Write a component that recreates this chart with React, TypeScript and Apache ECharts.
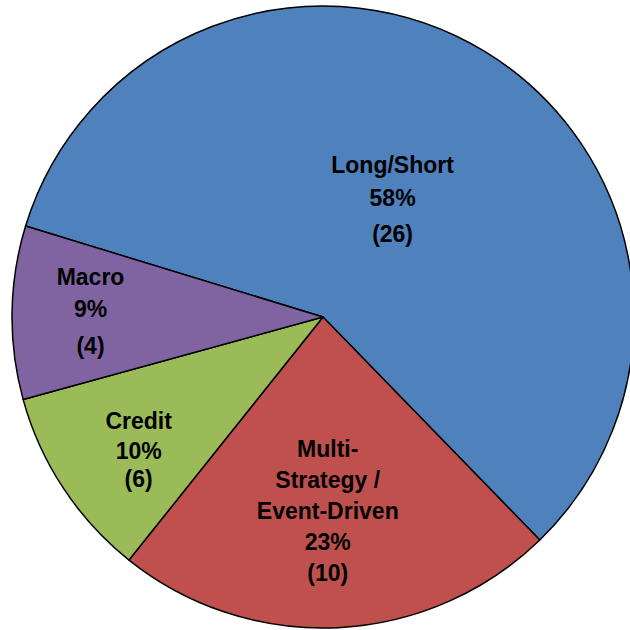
import React, { useEffect, useRef } from "react";
import * as echarts from "echarts";

const CATEGORIES = ["Long/Short", "Multi-\nStrategy /\nEvent-Driven", "Credit", "Macro"];
const SHARES = [58, 23, 10, 9];
const COUNTS = [26, 10, 6, 4];

const COLORS = ["#4F81BD", "#C0504D", "#9BBB59", "#8064A2"];
// per-slice line heights [name, percent, count] and label shifts (style only)
const LINE_H = [
  [33, 33, 38],
  [31, 31, 31],
  [30, 30, 27],
  [32, 32, 42],
];
const LABEL_SHIFT = [
  [-13, 19],
  [-3, 36],
  [-52, 45],
  [-74, -1],
];

const FONT = "'Liberation Sans', Arial, sans-serif";

export default function App() {
  const ref = useRef<HTMLDivElement>(null);
  useEffect(() => {
    if (!ref.current) return;
    const chart = echarts.init(ref.current, undefined, { renderer: "svg" });
    const txt = (lh: number) => ({
      fontFamily: FONT,
      fontWeight: "bold",
      fontSize: 23,
      color: "#000",
      lineHeight: lh,
      align: "center",
    });
    const data = CATEGORIES.map((name, i) => ({
      name,
      value: SHARES[i],
      itemStyle: { color: COLORS[i] },
      label: {
        rich: {
          n: txt(LINE_H[i][0]),
          p: txt(LINE_H[i][1]),
          c: txt(LINE_H[i][2]),
        },
      },
    }));
    chart.setOption({
      animation: false,
      backgroundColor: "#fff",
      series: [
        {
          type: "pie",
          center: [323, 317],
          radius: 311,
          startAngle: 163,
          clockwise: true,
          avoidLabelOverlap: false,
          itemStyle: { borderColor: "#000", borderWidth: 1.5 },
          emphasis: { disabled: true },
          labelLine: { show: false },
          label: {
            show: true,
            position: "inside",
            fontFamily: FONT,
            fontWeight: "bold",
            fontSize: 23,
            color: "#000",
            formatter: (p: any) => {
              const i = p.dataIndex;
              const nameLines = String(p.name)
                .split("\n")
                .map((s) => `{n|${s}}`)
                .join("\n");
              return `${nameLines}\n{p|${p.value}%}\n{c|(${COUNTS[i]})}`;
            },
          },
          labelLayout: (params: any) => ({
            dx: LABEL_SHIFT[params.dataIndex][0],
            dy: LABEL_SHIFT[params.dataIndex][1],
          }),
          data,
        },
      ],
    });
    return () => chart.dispose();
  }, []);
  return (
    <div
      ref={ref}
      style={{ position: "absolute", left: 0, top: 0, width: 630, height: 630, background: "#fff" }}
    />
  );
}
